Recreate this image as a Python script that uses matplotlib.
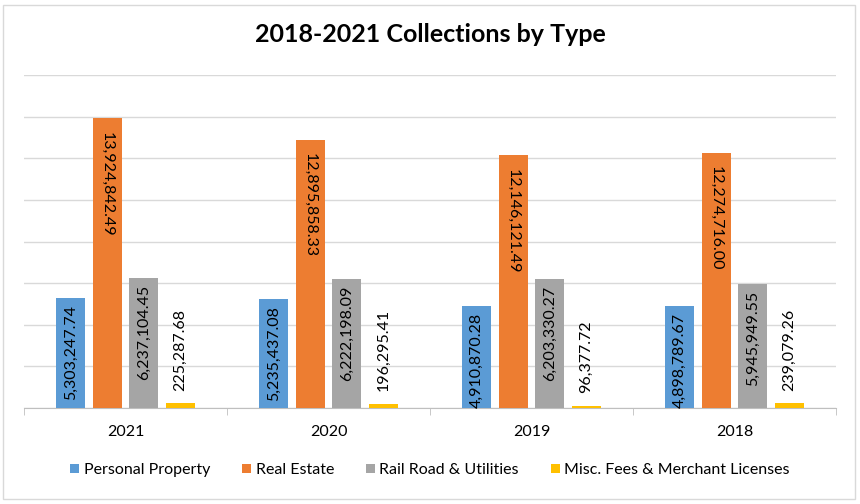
import matplotlib
matplotlib.use("Agg")
import matplotlib.pyplot as plt
from matplotlib.patches import Patch, Rectangle
from matplotlib.ticker import MultipleLocator
import numpy as np

years = ["2021", "2020", "2019", "2018"]
series_names = ["Personal Property", "Real Estate", "Rail Road & Utilities",
                "Misc. Fees & Merchant Licenses"]
personal_property = [5303247.74, 5235437.08, 4910870.28, 4898789.67]
real_estate = [13924842.49, 12895858.33, 12146121.49, 12274716.00]
rail_road = [6237104.45, 6222198.09, 6203330.27, 5945949.55]
misc_fees = [225287.68, 196295.41, 96377.72, 239079.26]
colors = ["#5B9BD5", "#ED7D31", "#A5A5A5", "#FFC000"]

plt.rcParams['font.family'] = ['Lato', 'DejaVu Sans']

fig = plt.figure(figsize=(8.6, 5.04), dpi=100)
W, H = 860, 504
ax = fig.add_axes([24 / W, (H - 408) / H, (836 - 24) / W, (408 - 75) / H])

# chart border
fig.patches.append(Rectangle((3 / W, 5 / H), 852 / W, 494 / H, transform=fig.transFigure,
                             fill=False, edgecolor="#D9D9D9", linewidth=1))

x = np.arange(len(years))
bw = 0.142
step = 0.18
all_series = [personal_property, real_estate, rail_road, misc_fees]
offsets = [-1.5 * step, -0.5 * step, 0.5 * step, 1.5 * step]

for i, (vals, off) in enumerate(zip(all_series, offsets)):
    bars = ax.bar(x + off, vals, width=bw, color=colors[i], zorder=3)
    for b, v in zip(bars, vals):
        cx = b.get_x() + b.get_width() / 2
        txt = f"{v:,.2f}"
        if i == 3:
            ax.annotate(txt, (cx, v), xytext=(0, 9), textcoords="offset points",
                        rotation=90, ha="center", va="bottom", fontsize=11.5,
                        color="#000000", zorder=4)
        elif i == 1:
            ax.annotate(txt, (cx, v), xytext=(0, -10), textcoords="offset points",
                        rotation=270, ha="center", va="top", fontsize=11.5,
                        color="#000000", zorder=4)
        else:
            ax.annotate(txt, (cx, v), xytext=(0, -5), textcoords="offset points",
                        rotation=90, ha="center", va="top", fontsize=11.5,
                        color="#000000", zorder=4)

ax.set_xlim(-0.5, len(years) - 0.5)
ax.set_ylim(0, 16000000)
ax.yaxis.set_major_locator(MultipleLocator(2000000))
ax.grid(axis="y", color="#D9D9D9", linewidth=1, zorder=0)
ax.set_yticklabels([])
ax.tick_params(axis="y", length=0)
for s in ["top", "right", "left"]:
    ax.spines[s].set_visible(False)
ax.spines["bottom"].set_color("#BFBFBF")

ax.set_xticks(x)
ax.set_xticklabels(years, fontsize=11.5)
ax.tick_params(axis="x", length=0, pad=12)
ax.set_xticks(np.arange(-0.5, len(years)), minor=True)
ax.tick_params(axis="x", which="minor", length=5, color="#BFBFBF")

fig.text(0.5, (H - 35) / H, "2018-2021 Collections by Type", ha="center", va="center",
         fontsize=18, fontweight="bold")

handles = [Patch(facecolor=c, edgecolor="none") for c in colors]
fig.legend(handles, series_names, loc="center", bbox_to_anchor=(0.5, (H - 470) / H),
           ncol=4, frameon=False, fontsize=11.5, handlelength=0.55, handleheight=0.55,
           handletextpad=0.3, columnspacing=2.0)

fig.savefig("out.png", dpi=100)
